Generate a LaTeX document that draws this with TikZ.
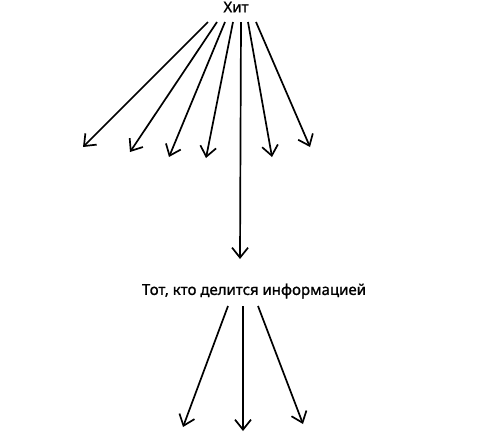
\documentclass[tikz,border=0pt]{standalone}
\usepackage{fontspec}
\setmainfont{Noto Sans}[FakeBold=1.2]
\usetikzlibrary{arrows.meta}
\begin{document}
\begin{tikzpicture}[x=1pt,y=-1pt,
  lbl/.style={inner sep=0pt, font=\fontsize{15}{17}\selectfont\bfseries},
  arr/.style={line width=1.7pt, -{Straight Barb[length=10pt,width=16pt,line width=1.7pt]}}]
\useasboundingbox (0,0) rectangle (484,432);
\node[lbl] (hit) at (236,7) {Хит};
\node[lbl] (sharer) at (254,291) {Тот, кто делится информацией};
% starts
\coordinate (s1) at (208,22);
\coordinate (s2) at (217,22);
\coordinate (s3) at (225,22);
\coordinate (s4) at (233,22);
\coordinate (s5) at (241,22);
\coordinate (s6) at (248,22);
\coordinate (s7) at (256,22);
% ends
\coordinate (e1) at (83,147);
\coordinate (e2) at (130,152);
\coordinate (e3) at (169,157);
\coordinate (e4) at (206,158);
\coordinate (e5) at (240,259);
\coordinate (e6) at (272,157);
\coordinate (e7) at (310,147);
\foreach \i in {1,...,7} \draw[arr] (s\i) -- (e\i);
% bottom
\coordinate (b1) at (228,306);
\coordinate (b2) at (243,306);
\coordinate (b3) at (258,306);
\coordinate (f1) at (183,427);
\coordinate (f2) at (243,431);
\coordinate (f3) at (303,424);
\foreach \i in {1,2,3} \draw[arr] (b\i) -- (f\i);
\end{tikzpicture}
\end{document}
